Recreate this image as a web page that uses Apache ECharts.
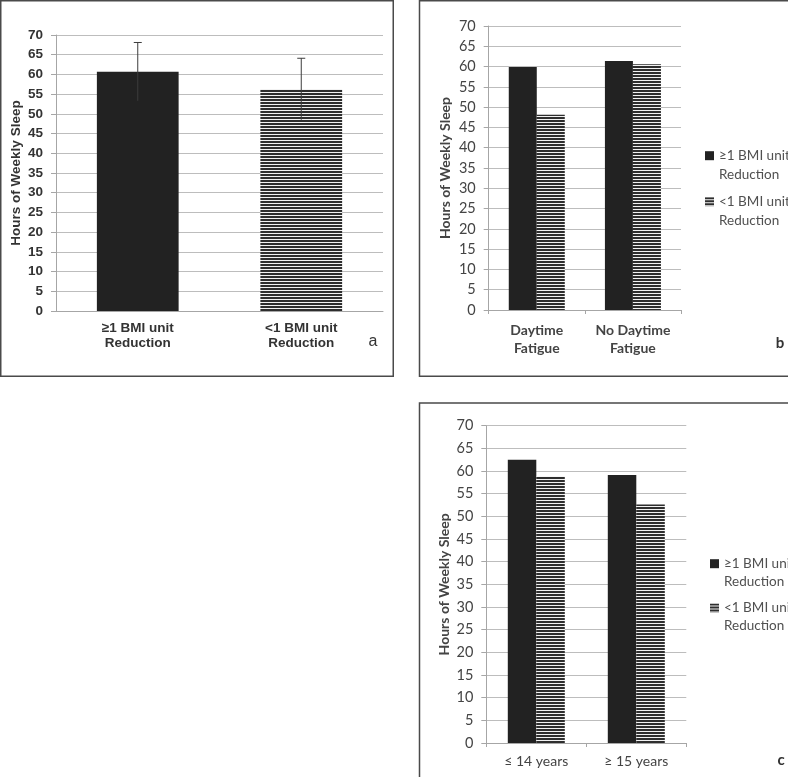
<!DOCTYPE html>
<html>
<head>
<meta charset="utf-8">
<script src="https://cdn.jsdelivr.net/npm/echarts@6/dist/echarts.min.js"></script>
<style>
html,body{margin:0;padding:0;background:#fff;}
#chart{width:788px;height:777px;}
</style>
</head>
<body>
<div id="chart"></div>
<script>
// ---- data ----
const seriesNames = ['≥1 BMI unit\nReduction', '<1 BMI unit\nReduction'];
const yMin = 0, yMax = 70, yStep = 5;

// panel a
const catsA = ['≥1 BMI unit\nReduction', '<1 BMI unit\nReduction'];
const meansA = [60.7, 56.3];
const errA = [7.4, 7.8];

// panel b
const catsB = ['Daytime\nFatigue', 'No Daytime\nFatigue'];
const geB = [59.9, 61.4];
const ltB = [48.1, 60.6];

// panel c
const catsC = ['≤ 14 years', '≥ 15 years'];
const geC = [62.5, 59.1];
const ltC = [58.8, 52.6];

// ---- styles ----
function stripes() {
  const c = document.createElement('canvas');
  c.width = 8; c.height = 3;
  const g = c.getContext('2d');
  g.fillStyle = '#f2f2f2'; g.fillRect(0, 0, 8, 3);
  g.fillStyle = '#2e2e2e'; g.fillRect(0, 0, 8, 2);
  return c;
}
const stripeFill = { image: stripes(), repeat: 'repeat' };
const black = '#222222';
const gridCol = '#bdbdbd';
const axisCol = '#a6a6a6';
const fontA = '"Liberation Sans", Arial, sans-serif';
const fontB = 'Lato, "Open Sans", sans-serif';

function yAxisCfg(gi, font, bold, color, gap, size, nameSize) {
  return {
    type: 'value', gridIndex: gi, min: yMin, max: yMax, interval: yStep,
    name: 'Hours of Weekly Sleep', nameLocation: 'middle', nameGap: gap,
    nameTextStyle: { fontFamily: font, fontWeight: 'bold', fontSize: nameSize, color: color },
    axisLine: { show: true, lineStyle: { color: axisCol, width: 1 } },
    axisTick: { show: true, length: 5, lineStyle: { color: axisCol } },
    axisLabel: { fontFamily: font, fontWeight: bold ? 'bold' : 'normal', fontSize: size, color: color, margin: 13 },
    splitLine: { show: true, lineStyle: { color: gridCol, width: 1 } }
  };
}

function legendCfg(left, top, gap, lh) {
  return {
    data: seriesNames, orient: 'vertical', left: left, top: top, itemGap: gap, padding: 0,
    itemWidth: 9, itemHeight: 9, icon: 'rect', selectedMode: false,
    formatter: function (n) { return '\n' + n; },
    textStyle: { fontFamily: fontB, fontSize: 13.5, color: '#505050', lineHeight: lh }
  };
}

const chart = echarts.init(document.getElementById('chart'), null, { renderer: 'canvas' });

const option = {
  backgroundColor: '#fff',
  animation: false,
  grid: [
    { left: 56, top: 35, width: 327, height: 276 },
    { left: 488.7, top: 26, width: 192.3, height: 284 },
    { left: 486.3, top: 425.7, width: 200, height: 317.3 }
  ],
  xAxis: [
    { type: 'category', gridIndex: 0, data: catsA,
      axisLine: { lineStyle: { color: axisCol } }, axisTick: { show: false },
      axisLabel: { interval: 0, fontFamily: fontA, fontWeight: 'bold', fontSize: 13.5, color: '#333', lineHeight: 15, margin: 10 } },
    { type: 'category', gridIndex: 1, data: catsB,
      axisLine: { lineStyle: { color: axisCol } }, axisTick: { show: true, length: 4, lineStyle: { color: axisCol } },
      axisLabel: { interval: 0, fontFamily: fontB, fontWeight: 'bold', fontSize: 14, color: '#444', lineHeight: 18, margin: 11 } },
    { type: 'category', gridIndex: 2, data: catsC,
      axisLine: { lineStyle: { color: axisCol } }, axisTick: { show: true, length: 4, lineStyle: { color: axisCol } },
      axisLabel: { interval: 0, fontFamily: fontB, fontSize: 14, color: '#444', margin: 11 } }
  ],
  yAxis: [
    yAxisCfg(0, fontA, true, '#333', 33, 13.5, 13.5),
    yAxisCfg(1, fontB, false, '#444', 36, 14.5, 14),
    yAxisCfg(2, fontB, false, '#444', 35, 14.5, 14)
  ],
  legend: [
    legendCfg(705, 127.2, -11, 19),
    legendCfg(710, 536.7, -9.7, 18)
  ],
  series: [
    // panel a
    { name: seriesNames[0], type: 'bar', xAxisIndex: 0, yAxisIndex: 0, barWidth: '50%', barGap: '-100%',
      data: meansA.map((v, i) => i === 0 ? v : '-'), itemStyle: { color: black } },
    { name: seriesNames[1], type: 'bar', xAxisIndex: 0, yAxisIndex: 0, barWidth: '50%', barGap: '-100%',
      data: meansA.map((v, i) => i === 1 ? v : '-'), itemStyle: { color: stripeFill } },
    { type: 'custom', xAxisIndex: 0, yAxisIndex: 0, z: 5,
      data: meansA.map((m, i) => [i, m, errA[i]]),
      renderItem: function (params, api) {
        const x = api.value(0), m = api.value(1), e = api.value(2);
        const top = api.coord([x, m + e]);
        const bot = api.coord([x, m - e]);
        return { type: 'group', children: [
          { type: 'line', shape: { x1: top[0], y1: top[1], x2: bot[0], y2: bot[1] }, style: { stroke: '#3c3c3c', lineWidth: 1 } },
          { type: 'line', shape: { x1: top[0] - 4, y1: top[1], x2: top[0] + 4, y2: top[1] }, style: { stroke: '#3c3c3c', lineWidth: 1 } }
        ] };
      } },
    // panel b
    { name: seriesNames[0], type: 'bar', xAxisIndex: 1, yAxisIndex: 1, barWidth: 28, barGap: '0%',
      data: geB, itemStyle: { color: black } },
    { name: seriesNames[1], type: 'bar', xAxisIndex: 1, yAxisIndex: 1, barWidth: 28, barGap: '0%',
      data: ltB, itemStyle: { color: stripeFill } },
    // panel c
    { name: seriesNames[0], type: 'bar', xAxisIndex: 2, yAxisIndex: 2, barWidth: 28.5, barGap: '0%',
      data: geC, itemStyle: { color: black } },
    { name: seriesNames[1], type: 'bar', xAxisIndex: 2, yAxisIndex: 2, barWidth: 28.5, barGap: '0%',
      data: ltC, itemStyle: { color: stripeFill } }
  ],
  graphic: [
    { type: 'rect', silent: true, shape: { x: 0.75, y: 0.75, width: 392.5, height: 375.5 }, style: { fill: null, stroke: '#4a4a4a', lineWidth: 1.5 } },
    { type: 'rect', silent: true, shape: { x: 419.5, y: 0.75, width: 400, height: 375.5 }, style: { fill: null, stroke: '#4a4a4a', lineWidth: 1.5 } },
    { type: 'rect', silent: true, shape: { x: 419.5, y: 403, width: 400, height: 400 }, style: { fill: null, stroke: '#4a4a4a', lineWidth: 1.5 } },
    { type: 'text', silent: true, x: 373, y: 342, style: { text: 'a', fontFamily: fontA, fontSize: 16, fill: '#333', align: 'center', verticalAlign: 'middle' } },
    { type: 'text', silent: true, x: 780, y: 343, style: { text: 'b', fontFamily: fontB, fontWeight: 'bold', fontSize: 15, fill: '#333', align: 'center', verticalAlign: 'middle' } },
    { type: 'text', silent: true, x: 781, y: 760, style: { text: 'c', fontFamily: fontB, fontWeight: 'bold', fontSize: 15, fill: '#333', align: 'center', verticalAlign: 'middle' } }
  ]
};
chart.setOption(option);
</script>
</body>
</html>
